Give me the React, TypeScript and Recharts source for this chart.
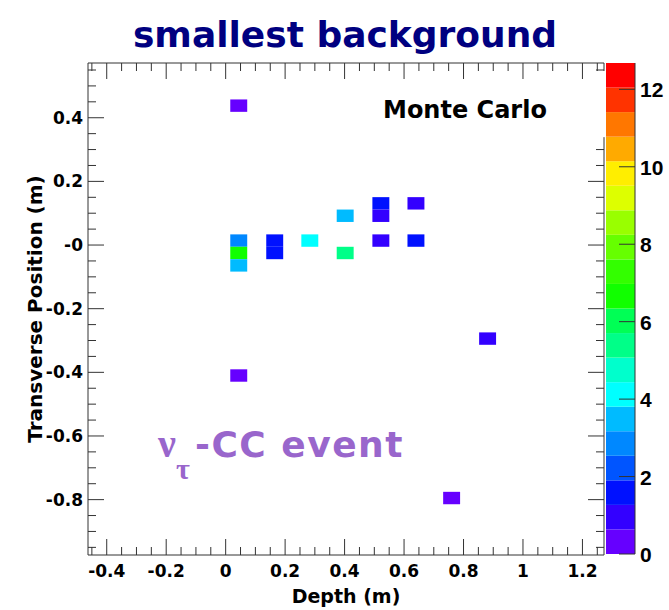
import React from 'react';
import { ComposedChart, XAxis, YAxis, Scatter, ReferenceArea, ReferenceLine } from 'recharts';

// axis ranges (m)
const depthDomain = [-0.463, 1.2725];
const transDomain = [-0.974, 0.572];

// major tick values and their printed labels
const depthMajor = [-0.4, -0.2, 0, 0.2, 0.4, 0.6, 0.8, 1, 1.2];
const depthLabels = ['-0.4', '-0.2', '0', '0.2', '0.4', '0.6', '0.8', '1', '1.2'];
const transMajor = [0.4, 0.2, 0, -0.2, -0.4, -0.6, -0.8];
const transLabels = ['0.4', '0.2', '-0', '-0.2', '-0.4', '-0.6', '-0.8'];

// hit cells: centre depth, centre transverse position, deposit
const cellDepth = [0.044, 0.044, 0.044, 0.044, 0.165, 0.165, 0.283, 0.402, 0.402, 0.522, 0.522, 0.522, 0.640, 0.640, 0.760, 0.881, 0.044];
const cellTrans = [0.438, 0.014, -0.025, -0.064, 0.014, -0.025, 0.014, 0.092, -0.025, 0.131, 0.092, 0.014, 0.131, 0.014, -0.795, -0.294, -0.410];
const cellValue = [0.4, 3.0, 6.6, 3.5, 1.6, 1.5, 4.1, 3.4, 5.4, 1.5, 0.9, 1.0, 0.9, 1.4, 0.4, 0.8, 0.5];
const cellW = 0.057;
const cellH = 0.039;

// colour scale
const zMax = 12.68;
const zTicks = [0, 2, 4, 6, 8, 10, 12];
const palette = [
  '#6600ff', '#3300ff', '#0011ff', '#0055ff', '#0088ff',
  '#00bbff', '#00ffff', '#00ffcc', '#00ff88', '#00ff55',
  '#11ff00', '#33ff00', '#66ff00', '#99ff00', '#ddff00',
  '#ffee00', '#ffaa00', '#ff7700', '#ff3300', '#ff0000',
];
const zStep = zMax / palette.length;
const colorFor = (z: number) => palette[Math.min(palette.length - 1, Math.floor(z / zStep))];

const minorTicks = (lo: number, hi: number) => {
  const out: number[] = [];
  for (let k = Math.ceil(lo / 0.05 - 1e-9); k * 0.05 <= hi + 1e-9; k++) out.push(Math.round(k * 5) / 100);
  return out;
};
const depthTicks = minorTicks(depthDomain[0], depthDomain[1]);
const transTicks = minorTicks(transDomain[0], transDomain[1]);

const cells = cellDepth.map((d, i) => ({ depth: d, trans: cellTrans[i], z: cellValue[i] }));

const AX = '#333';
const tickFont = { fontFamily: 'DejaVu Sans', fontWeight: 700, fontSize: 17 };

const findMajor = (list: number[], v: number) => list.findIndex((m) => Math.abs(m - v) < 1e-6);

const depthTick = (side: 'bottom' | 'top') => (props: any) => {
  const { x, y, payload } = props;
  const i = findMajor(depthMajor, payload.value);
  const len = i >= 0 ? 16 : 8;
  const dir = side === 'bottom' ? -1 : 1;
  return (
    <g>
      <line x1={x} y1={y} x2={x} y2={y + dir * len} stroke={AX} />
      {side === 'bottom' && i >= 0 && (
        <text x={x} y={y + 22} textAnchor="middle" fill="#000" {...tickFont}>
          {depthLabels[i]}
        </text>
      )}
    </g>
  );
};

const transTick = (side: 'left' | 'right') => (props: any) => {
  const { x, y, payload } = props;
  const v = payload.value;
  // the Monte Carlo box hides the right-hand ticks near the top
  if (side === 'right' && v > 0.33 && v < 0.54) return <g />;
  const i = findMajor(transMajor, v);
  const len = i >= 0 ? 16 : 8;
  const dir = side === 'left' ? 1 : -1;
  return (
    <g>
      <line x1={x} y1={y} x2={x + dir * len} y2={y} stroke={AX} />
      {side === 'left' && i >= 0 && (
        <text x={x - 5} y={y + 6} textAnchor="end" fill="#000" {...tickFont}>
          {transLabels[i]}
        </text>
      )}
    </g>
  );
};

const zTick = (props: any) => {
  const { x, y, payload } = props;
  return (
    <g>
      <line x1={x} y1={y} x2={x - 16} y2={y} stroke={AX} />
      <text x={x + 5} y={y + 8} textAnchor="start" fill="#000" fontFamily="Liberation Sans" fontWeight={700} fontSize={21}>
        {payload.value}
      </text>
    </g>
  );
};

export default function App() {
  return (
    <div style={{ position: 'absolute', left: 0, top: 0, width: 669, height: 610, background: '#fff' }}>
      <div style={{ position: 'absolute', left: 0, top: 0 }}>
        <ComposedChart width={669} height={610} data={cells} margin={{ top: 62, right: 64, bottom: 0, left: 0 }}>
          <XAxis xAxisId="b" dataKey="depth" type="number" domain={depthDomain} allowDataOverflow ticks={depthTicks}
            interval={0} height={55} tickSize={0} tickMargin={0} tick={depthTick('bottom')} axisLine={{ stroke: AX }} tickLine={false} />
          <XAxis xAxisId="t" dataKey="depth" orientation="top" type="number" domain={depthDomain} allowDataOverflow ticks={depthTicks}
            interval={0} height={1} tickSize={0} tickMargin={0} tick={depthTick('top')} axisLine={{ stroke: AX }} tickLine={false} />
          <YAxis yAxisId="l" dataKey="trans" type="number" domain={transDomain} allowDataOverflow ticks={transTicks}
            interval={0} width={88} tickSize={0} tickMargin={0} tick={transTick('left')} axisLine={{ stroke: AX }} tickLine={false} />
          <YAxis yAxisId="r" dataKey="trans" orientation="right" type="number" domain={transDomain} allowDataOverflow ticks={transTicks}
            interval={0} width={1} tickSize={0} tickMargin={0} tick={transTick('right')} axisLine={false} tickLine={false} />
          {cells.map((c, i) => (
            <ReferenceArea key={i} xAxisId="b" yAxisId="l"
              x1={c.depth - cellW / 2} x2={c.depth + cellW / 2}
              y1={c.trans - cellH / 2} y2={c.trans + cellH / 2}
              fill={colorFor(c.z)} fillOpacity={1} stroke="none" ifOverflow="visible" />
          ))}
          <ReferenceLine xAxisId="b" yAxisId="l" ifOverflow="visible" stroke={AX}
            segment={[{ x: depthDomain[1], y: transDomain[0] }, { x: depthDomain[1], y: 0.339 }]} />
          <ReferenceLine xAxisId="b" yAxisId="l" ifOverflow="visible" stroke={AX}
            segment={[{ x: depthDomain[1], y: 0.547 }, { x: depthDomain[1], y: transDomain[1] }]} />
          <Scatter xAxisId="b" yAxisId="l" dataKey="trans" isAnimationActive={false} shape={() => <g />} />
          <Scatter xAxisId="t" yAxisId="r" dataKey="trans" isAnimationActive={false} shape={() => <g />} />
        </ComposedChart>
      </div>
      <div style={{ position: 'absolute', left: 606, top: 0 }}>
        <ComposedChart width={63} height={610} data={[{ u: 0.5, z: 0 }]} margin={{ top: 63, right: 33, bottom: 56, left: 0 }}>
          <XAxis xAxisId="c" dataKey="u" type="number" domain={[0, 1]} hide />
          <YAxis yAxisId="z" dataKey="z" orientation="right" type="number" domain={[0, zMax]} allowDataOverflow ticks={zTicks}
            interval={0} width={1} tickSize={0} tickMargin={0} tick={zTick} axisLine={{ stroke: AX }} tickLine={false} />
          {palette.map((col, i) => (
            <ReferenceArea key={i} xAxisId="c" yAxisId="z" x1={0} x2={1} y1={i * zStep} y2={(i + 1) * zStep}
              fill={col} fillOpacity={1} stroke="none" ifOverflow="visible" />
          ))}
          <Scatter xAxisId="c" yAxisId="z" dataKey="z" isAnimationActive={false} shape={() => <g />} />
        </ComposedChart>
      </div>
      <svg width={669} height={610} style={{ position: 'absolute', left: 0, top: 0, pointerEvents: 'none' }}>
        <text x={345} y={47} textAnchor="middle" fill="#000080" fontFamily="DejaVu Sans" fontWeight={700} fontSize={36}>
          smallest background
        </text>
        <text x={383} y={118} fill="#000" fontFamily="DejaVu Sans" fontWeight={700} fontSize={24}>
          Monte Carlo
        </text>
        <text x={346} y={603} textAnchor="middle" fill="#000" fontFamily="DejaVu Sans" fontWeight={700} fontSize={19}>
          Depth (m)
        </text>
        <text transform="translate(42,309) rotate(-90)" textAnchor="middle" fill="#000" fontFamily="DejaVu Sans" fontWeight={700} fontSize={20}>
          Transverse Position (m)
        </text>
        <text x={158} y={457} fill="#9966cc" fontFamily="Liberation Serif" fontWeight={700} fontSize={40}>ν</text>
        <text x={176} y={479} fill="#9966cc" fontFamily="Liberation Serif" fontWeight={700} fontSize={30}>τ</text>
        <text x={195} y={457} fill="#9966cc" fontFamily="DejaVu Sans" fontWeight={700} fontSize={36} letterSpacing={1.5}>
          -CC event
        </text>
      </svg>
    </div>
  );
}
